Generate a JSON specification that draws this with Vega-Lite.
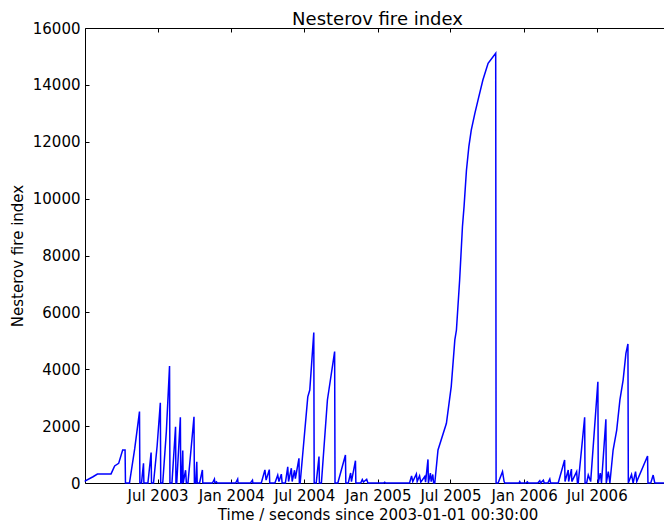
{
  "$schema": "https://vega.github.io/schema/vega-lite/v6.json",
  "width": 585,
  "height": 455,
  "autosize": {"type": "none"},
  "padding": {"left": 85, "top": 28, "right": 0, "bottom": 43},
  "background": "white",
  "title": {"text": "Nesterov fire index", "font": "DejaVu Sans", "fontSize": 18, "fontWeight": "normal", "color": "black", "anchor": "middle", "offset": -8},
  "config": {
    "view": {"stroke": "black", "strokeWidth": 1},
    "axis": {
      "labelFont": "DejaVu Sans", "labelFontSize": 15, "labelColor": "black",
      "titleFont": "DejaVu Sans", "titleFontSize": 15, "titleFontWeight": "normal", "titleColor": "black",
      "tickColor": "black", "tickSize": -4, "tickWidth": 1, "grid": false, "domain": false,
      "labelFlush": false, "labelOverlap": false, "labelBound": false
    }
  },
  "data": {"values": [
    {"t":"2003-01-01","v":50},{"t":"2003-01-02","v":80},{"t":"2003-01-21","v":220},{"t":"2003-02-01","v":316},
    {"t":"2003-03-07","v":320},{"t":"2003-03-16","v":600},{"t":"2003-03-26","v":690},{"t":"2003-04-05","v":1160},
    {"t":"2003-04-11","v":1160},{"t":"2003-04-12","v":0},{"t":"2003-04-22","v":0},{"t":"2003-05-05","v":1200},
    {"t":"2003-05-17","v":2510},{"t":"2003-05-18","v":0},{"t":"2003-05-22","v":0},{"t":"2003-05-27","v":690},
    {"t":"2003-05-28","v":0},{"t":"2003-06-07","v":0},{"t":"2003-06-15","v":1070},{"t":"2003-06-16","v":0},
    {"t":"2003-06-21","v":0},{"t":"2003-06-30","v":1300},{"t":"2003-07-08","v":2820},{"t":"2003-07-09","v":0},
    {"t":"2003-07-14","v":0},{"t":"2003-07-23","v":1800},{"t":"2003-07-31","v":4110},{"t":"2003-08-01","v":0},
    {"t":"2003-08-06","v":0},{"t":"2003-08-15","v":1980},{"t":"2003-08-16","v":0},{"t":"2003-08-18","v":0},
    {"t":"2003-08-27","v":2310},{"t":"2003-08-28","v":0},{"t":"2003-08-30","v":0},{"t":"2003-09-02","v":1140},
    {"t":"2003-09-03","v":0},{"t":"2003-09-09","v":450},{"t":"2003-09-11","v":0},{"t":"2003-09-15","v":0},
    {"t":"2003-09-30","v":2330},{"t":"2003-10-01","v":0},{"t":"2003-10-04","v":0},{"t":"2003-10-07","v":750},
    {"t":"2003-10-08","v":0},{"t":"2003-10-14","v":0},{"t":"2003-10-21","v":460},{"t":"2003-10-22","v":0},
    {"t":"2003-11-15","v":0},{"t":"2003-11-20","v":140},{"t":"2003-11-21","v":0},{"t":"2003-11-25","v":40},
    {"t":"2003-11-27","v":0},
    {"t":"2004-01-12","v":0},{"t":"2004-01-17","v":140},{"t":"2004-01-18","v":0},{"t":"2004-02-18","v":0},
    {"t":"2004-02-23","v":100},{"t":"2004-02-24","v":0},{"t":"2004-03-16","v":0},{"t":"2004-03-25","v":460},
    {"t":"2004-03-28","v":100},{"t":"2004-04-05","v":470},{"t":"2004-04-06","v":0},{"t":"2004-04-19","v":0},
    {"t":"2004-04-26","v":280},{"t":"2004-04-29","v":50},{"t":"2004-05-05","v":310},{"t":"2004-05-07","v":0},
    {"t":"2004-05-15","v":0},{"t":"2004-05-21","v":570},{"t":"2004-05-23","v":50},{"t":"2004-05-30","v":520},
    {"t":"2004-06-01","v":50},{"t":"2004-06-07","v":450},{"t":"2004-06-09","v":150},{"t":"2004-06-18","v":870},
    {"t":"2004-06-19","v":0},{"t":"2004-06-21","v":0},{"t":"2004-07-10","v":3030},{"t":"2004-07-15","v":3270},
    {"t":"2004-07-25","v":5290},{"t":"2004-07-26","v":0},{"t":"2004-07-31","v":0},{"t":"2004-08-07","v":930},
    {"t":"2004-08-08","v":0},{"t":"2004-08-13","v":0},{"t":"2004-08-28","v":2920},{"t":"2004-09-15","v":4620},
    {"t":"2004-09-16","v":0},{"t":"2004-09-23","v":0},{"t":"2004-10-12","v":985},{"t":"2004-10-13","v":0},
    {"t":"2004-10-19","v":0},{"t":"2004-10-25","v":350},{"t":"2004-10-27","v":50},{"t":"2004-11-06","v":785},
    {"t":"2004-11-07","v":0},{"t":"2004-11-19","v":0},{"t":"2004-11-23","v":120},{"t":"2004-11-26","v":30},
    {"t":"2004-12-04","v":130},{"t":"2004-12-07","v":0},
    {"t":"2005-01-15","v":0},{"t":"2005-01-18","v":30},{"t":"2005-01-20","v":0},{"t":"2005-03-21","v":0},
    {"t":"2005-03-26","v":250},{"t":"2005-03-29","v":50},{"t":"2005-04-07","v":316},{"t":"2005-04-09","v":50},
    {"t":"2005-04-15","v":250},{"t":"2005-04-18","v":30},{"t":"2005-04-28","v":230},{"t":"2005-04-30","v":30},
    {"t":"2005-05-06","v":830},{"t":"2005-05-07","v":0},{"t":"2005-05-12","v":350},{"t":"2005-05-14","v":50},
    {"t":"2005-05-18","v":300},{"t":"2005-05-20","v":0},{"t":"2005-05-23","v":0},{"t":"2005-05-31","v":1160},
    {"t":"2005-06-21","v":2100},{"t":"2005-07-03","v":3390},{"t":"2005-07-12","v":5030},{"t":"2005-07-16","v":5380},
    {"t":"2005-07-24","v":7140},{"t":"2005-07-31","v":9010},{"t":"2005-08-04","v":9720},{"t":"2005-08-10","v":11000},
    {"t":"2005-08-16","v":11830},{"t":"2005-08-22","v":12410},{"t":"2005-08-31","v":13000},{"t":"2005-09-08","v":13470},
    {"t":"2005-09-20","v":14170},{"t":"2005-10-03","v":14760},{"t":"2005-10-22","v":15110},{"t":"2005-10-23","v":0},
    {"t":"2005-10-28","v":0},{"t":"2005-11-08","v":400},{"t":"2005-11-12","v":50},{"t":"2005-11-14","v":0},
    {"t":"2005-12-19","v":0},{"t":"2005-12-21","v":50},{"t":"2005-12-23","v":0},
    {"t":"2006-01-05","v":0},{"t":"2006-01-09","v":40},{"t":"2006-01-11","v":0},{"t":"2006-02-04","v":0},
    {"t":"2006-02-09","v":80},{"t":"2006-02-11","v":0},{"t":"2006-02-18","v":100},{"t":"2006-02-20","v":0},
    {"t":"2006-03-01","v":0},{"t":"2006-03-06","v":140},{"t":"2006-03-08","v":0},{"t":"2006-03-27","v":0},
    {"t":"2006-04-12","v":810},{"t":"2006-04-13","v":50},{"t":"2006-04-21","v":460},{"t":"2006-04-22","v":50},
    {"t":"2006-04-29","v":490},{"t":"2006-04-30","v":50},{"t":"2006-05-12","v":400},{"t":"2006-05-14","v":0},
    {"t":"2006-05-16","v":0},{"t":"2006-06-01","v":2310},{"t":"2006-06-02","v":0},{"t":"2006-06-06","v":0},
    {"t":"2006-06-10","v":280},{"t":"2006-06-16","v":50},{"t":"2006-07-04","v":3560},{"t":"2006-07-05","v":0},
    {"t":"2006-07-10","v":350},{"t":"2006-07-13","v":0},{"t":"2006-07-24","v":2240},{"t":"2006-07-25","v":0},
    {"t":"2006-07-30","v":400},{"t":"2006-08-03","v":0},{"t":"2006-08-11","v":1160},{"t":"2006-08-20","v":1860},
    {"t":"2006-08-28","v":2920},{"t":"2006-09-05","v":3620},{"t":"2006-09-12","v":4560},{"t":"2006-09-17","v":4890},
    {"t":"2006-09-18","v":0},{"t":"2006-09-26","v":300},{"t":"2006-09-30","v":0},{"t":"2006-10-06","v":400},
    {"t":"2006-10-09","v":50},{"t":"2006-11-05","v":950},{"t":"2006-11-06","v":0},{"t":"2006-11-13","v":0},
    {"t":"2006-11-19","v":280},{"t":"2006-11-23","v":0},{"t":"2006-12-31","v":0}
  ]},
  "layer": [
    {
      "mark": {"type": "line", "color": "#0000ff", "strokeWidth": 1.5},
      "encoding": {
        "x": {
          "field": "t", "type": "temporal",
          "scale": {"type": "utc", "domain": [{"year": 2003, "month": 1, "date": 1, "utc": true}, {"year": 2006, "month": 12, "date": 31, "utc": true}]},
          "axis": {
            "orient": "bottom",
            "values": [
              {"year": 2003, "month": 7, "date": 1, "utc": true},
              {"year": 2004, "month": 1, "date": 1, "utc": true},
              {"year": 2004, "month": 7, "date": 1, "utc": true},
              {"year": 2005, "month": 1, "date": 1, "utc": true},
              {"year": 2005, "month": 7, "date": 1, "utc": true},
              {"year": 2006, "month": 1, "date": 1, "utc": true},
              {"year": 2006, "month": 7, "date": 1, "utc": true}
            ],
            "labelExpr": "utcFormat(datum.value, '%b %Y')",
            "labelPadding": 9,
            "title": "Time / seconds since 2003-01-01 00:30:00",
            "titlePadding": 4
          }
        },
        "y": {
          "field": "v", "type": "quantitative",
          "scale": {"domain": [0, 16000], "nice": false, "zero": true},
          "axis": {
            "orient": "left",
            "values": [0, 2000, 4000, 6000, 8000, 10000, 12000, 14000, 16000],
            "format": "d",
            "labelPadding": 9,
            "title": "Nesterov fire index",
            "titlePadding": 7
          }
        }
      }
    },
    {
      "mark": {"type": "line", "strokeOpacity": 0},
      "encoding": {
        "x": {
          "field": "t", "type": "temporal",
          "axis": {
            "orient": "top", "labels": false, "title": null,
            "values": [
              {"year": 2003, "month": 7, "date": 1, "utc": true},
              {"year": 2004, "month": 1, "date": 1, "utc": true},
              {"year": 2004, "month": 7, "date": 1, "utc": true},
              {"year": 2005, "month": 1, "date": 1, "utc": true},
              {"year": 2005, "month": 7, "date": 1, "utc": true},
              {"year": 2006, "month": 1, "date": 1, "utc": true},
              {"year": 2006, "month": 7, "date": 1, "utc": true}
            ]
          }
        },
        "y": {
          "field": "v", "type": "quantitative",
          "axis": {
            "orient": "right", "labels": false, "title": null,
            "values": [0, 2000, 4000, 6000, 8000, 10000, 12000, 14000, 16000]
          }
        }
      }
    }
  ],
  "resolve": {"axis": {"x": "independent", "y": "independent"}}
}
